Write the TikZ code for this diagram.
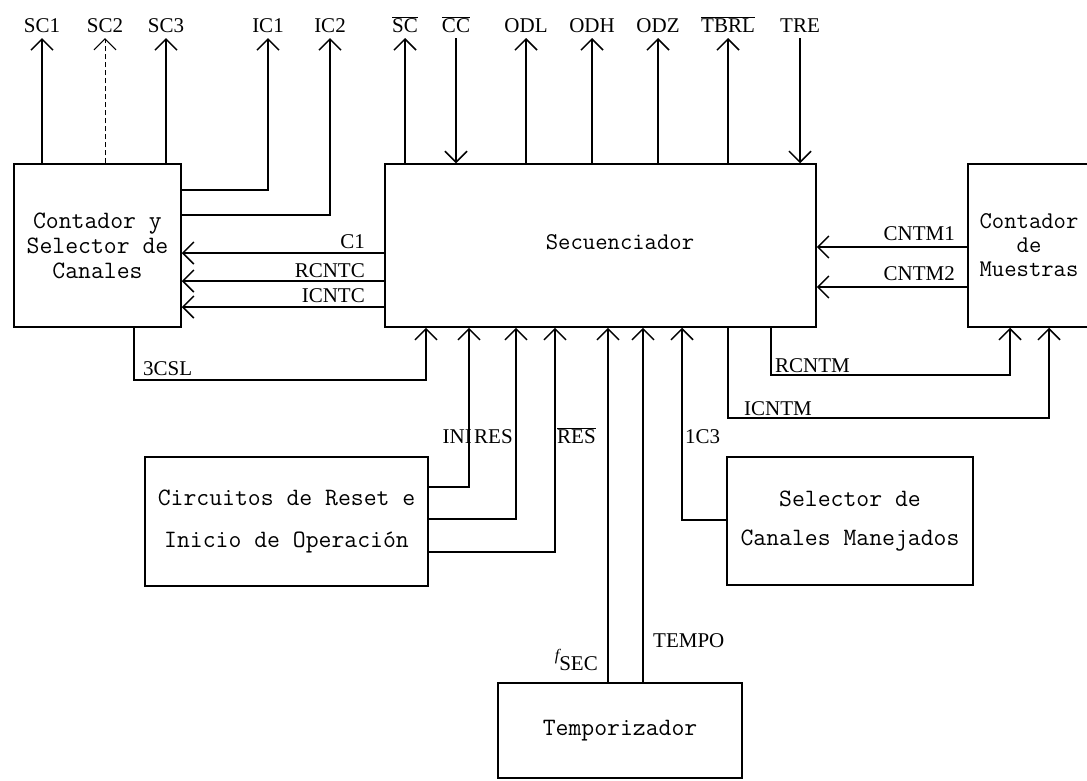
\documentclass[tikz,border=0pt]{standalone}
\usepackage{fontspec}
\setmainfont{Liberation Serif}
\usetikzlibrary{arrows.meta}
\newcommand{\ovl}[1]{$\overline{\mbox{#1}}$}
\newcommand{\boxfont}{\ttfamily}
\begin{document}
\begin{tikzpicture}[x=1pt,y=-1pt,
 blk/.style={draw, line width=1.5pt, font=\boxfont\fontsize{25}{25}\selectfont, align=center, inner sep=0pt},
 lab/.style={font=\fontsize{21}{21}\selectfont, inner sep=0pt},
 wire/.style={line width=1.5pt},
 arr/.style={wire, -{Straight Barb[length=11pt,width=22pt]}},
]
\useasboundingbox (0,0) rectangle (1087,780);

% blocks
\node[blk, minimum width=167pt, minimum height=163pt] (csc) at (97.5,245.5) {Contador y\\Selector de\\Canales};
\node[blk, minimum width=431pt, minimum height=163pt] (seq) at (600.5,245.5) {};
\node[font=\boxfont\fontsize{24}{25}\selectfont] (seqt) at (620,242) {Secuenciador};
\node[blk, minimum width=122pt, minimum height=163pt, font=\boxfont\fontsize{24}{24}\selectfont] (cm) at (1029,245.5) {Contador\\de\\Muestras};
\node[blk, minimum width=283pt, minimum height=129pt, font=\boxfont\fontsize{25}{42}\selectfont] (rst) at (286.5,521.5) {Circuitos de Reset e\\Inicio de Operación};
\node[blk, minimum width=246pt, minimum height=128pt, font=\boxfont\fontsize{25}{39}\selectfont] (scm) at (850,521) {Selector de\\Canales Manejados};
\node[blk, minimum width=244pt, minimum height=95pt] (tmp) at (620,730.5) {Temporizador};

% top labels
\foreach \n/\x/\t in {lsc1/42/SC1, lsc2/105/SC2, lsc3/166/SC3, lic1/268/IC1, lic2/330/IC2,
  lsc/405/\ovl{SC}, lcc/456/\ovl{CC}, lodl/526/ODL, lodh/592/ODH, lodz/658/ODZ,
  ltbrl/728/\ovl{TBRL}, ltre/800/TRE}
  \node[lab, anchor=base] (\n) at (\x,32) {\t};

\foreach \n/\x in {tsc1/42, tsc2/105, tsc3/166, tic1/268, tic2/330, tsc/405, tcc/456,
  todl/526, todh/592, todz/658, ttbrl/728, ttre/800}
  \coordinate (\n) at (\x,38);

% top connectors
\draw[arr] (csc.north -| tsc1) -- (tsc1);
\draw[wire, line width=0.8pt, dash pattern=on 5pt off 3pt, -{Straight Barb[length=11pt,width=22pt,line width=1.2pt]}] (csc.north -| tsc2) -- (tsc2);
\draw[arr] (csc.north -| tsc3) -- (tsc3);
\draw[arr] (csc.east |- 0,190) -| (tic1);
\draw[arr] (csc.east |- 0,215) -| (tic2);
\draw[arr] (seq.north -| tsc) -- (tsc);
\draw[arr] (tcc) -- (seq.north -| tcc);
\draw[arr] (seq.north -| todl) -- (todl);
\draw[arr] (seq.north -| todh) -- (todh);
\draw[arr] (seq.north -| todz) -- (todz);
\draw[arr] (seq.north -| ttbrl) -- (ttbrl);
\draw[arr] (ttre) -- (seq.north -| ttre);

% left side connectors
\draw[arr] (seq.west |- 0,253) -- (csc.east |- 0,253);
\draw[arr] (seq.west |- 0,281) -- (csc.east |- 0,281);
\draw[arr] (seq.west |- 0,307) -- (csc.east |- 0,307);
\node[lab, anchor=base east] (lc1) at (365,248) {C1};
\node[lab, anchor=base east] (lrc) at (365,277) {RCNTC};
\node[lab, anchor=base east] (lic) at (365,302) {ICNTC};

% right side connectors
\draw[arr] (cm.west |- 0,247) -- (seq.east |- 0,247);
\draw[arr] (cm.west |- 0,287) -- (seq.east |- 0,287);
\node[lab, anchor=base east] (lcn1) at (955,240) {CNTM1};
\node[lab, anchor=base east] (lcn2) at (955,280) {CNTM2};

% 3CSL
\draw[arr] (csc.south -| 134,0) -- (134,380) -- (426,380) -- (seq.south -| 426,0);
\node[lab, anchor=base west] (l3c) at (143,375) {3CSL};

% reset signals
\draw[arr] (rst.east |- 0,487) -- (469,487) -- (seq.south -| 469,0);
\draw[arr] (rst.east |- 0,519) -- (516,519) -- (seq.south -| 516,0);
\draw[arr] (rst.east |- 0,552) -- (555,552) -- (seq.south -| 555,0);
\node[lab, anchor=base east] (lini) at (472,443) {INI};
\node[lab, anchor=base west] (lres) at (474,443) {RES};
\node[lab, anchor=base west] (lnres) at (557,443) {\ovl{RES}};

% timer signals
\draw[arr] (tmp.north -| 608,0) -- (seq.south -| 608,0);
\draw[arr] (tmp.north -| 643,0) -- (seq.south -| 643,0);
\node[lab, anchor=base east] (lfs) at (598,660) {{\fontsize{16}{16}\selectfont\itshape f}\raisebox{-1.1ex}{SEC}};
\node[lab, anchor=base west] (ltm) at (653,647) {TEMPO};

% 1C3
\draw[arr] (scm.west |- 0,520) -- (682,520) -- (seq.south -| 682,0);
\node[lab, anchor=base west] (l1c3) at (685,443) {1C3};

% ICNTM / RCNTM
\draw[arr] (seq.south -| 728,0) -- (728,418) -- (1049,418) -- (cm.south -| 1049,0);
\draw[arr] (seq.south -| 771,0) -- (771,375) -- (1010,375) -- (cm.south -| 1010,0);
\node[lab, anchor=base west] (lrcm) at (775,372) {RCNTM};
\node[lab, anchor=base west] (licm) at (744,415) {ICNTM};
\end{tikzpicture}
\end{document}
